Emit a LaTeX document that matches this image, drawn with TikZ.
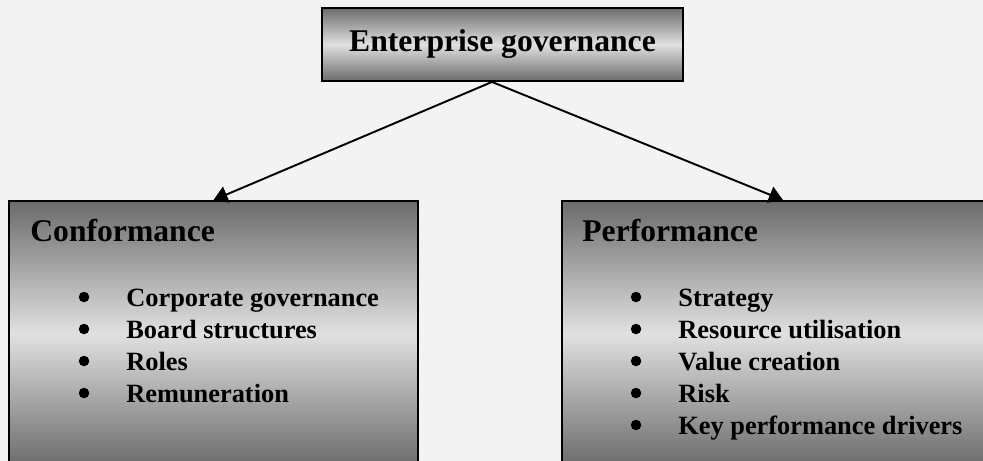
\documentclass[tikz,border=0pt]{standalone}
\usepackage{fontspec}
\setmainfont{Liberation Serif}
\usetikzlibrary{arrows.meta}
\definecolor{paper}{HTML}{F3F3F3}
\begin{document}
\begin{tikzpicture}[
  shadedbox/.style={draw=black, line width=1.1pt, top color=black!58, bottom color=black!58, middle color=black!12, inner sep=0pt},
  headtext/.style={font=\bfseries\fontsize{18}{22}\selectfont, inner sep=0pt},
  itemtext/.style={font=\bfseries\fontsize{15}{18}\selectfont, inner sep=0pt},
  dot/.style={circle, fill=black, inner sep=0pt, minimum size=0.21cm},
  link/.style={line width=1.1pt, -{Triangle[length=0.28cm,width=0.34cm]}}
]
\useasboundingbox (0,0) rectangle (19.66,9.22);
\clip (0,0) rectangle (19.66,9.22);
\fill [paper] (0,0) rectangle (19.66,9.22);
% top box
\node [shadedbox, headtext, minimum width=7.22cm, minimum height=1.46cm] (eg) at (10.05,8.33) {Enterprise governance};
% the two lower boxes
\node [shadedbox, minimum width=8.18cm, minimum height=5.3cm] (conf) at (4.27,2.55) {};
\node [shadedbox, minimum width=8.84cm, minimum height=5.3cm] (perf) at (15.66,2.55) {};
% arrows
\coordinate (fork) at ([xshift=-0.21cm]eg.south);
\draw [link] (fork) -- (conf.north);
\draw [link] (fork) -- (perf.north);
% headings
\node [headtext, anchor=base west] (confhead) at ([shift={(0.44,-0.82)}]conf.north west) {Conformance};
\node [headtext, anchor=base west] (perfhead) at ([shift={(0.42,-0.82)}]perf.north west) {Performance};
% bullet lists
\foreach \txt [count=\i] in {Corporate governance, Board structures, Roles, Remuneration} {
  \node [dot] (confdot\i) at ([shift={(1.52,-1.30-0.64*\i)}]conf.north west) {};
  \node [itemtext, anchor=base west] (confitem\i) at ([shift={(2.36,-1.48-0.64*\i)}]conf.north west) {\txt};
}
\foreach \txt [count=\i] in {Strategy, Resource utilisation, Value creation, Risk, Key performance drivers} {
  \node [dot] (perfdot\i) at ([shift={(1.50,-1.30-0.64*\i)}]perf.north west) {};
  \node [itemtext, anchor=base west] (perfitem\i) at ([shift={(2.34,-1.48-0.64*\i)}]perf.north west) {\txt};
}
\end{tikzpicture}
\end{document}
